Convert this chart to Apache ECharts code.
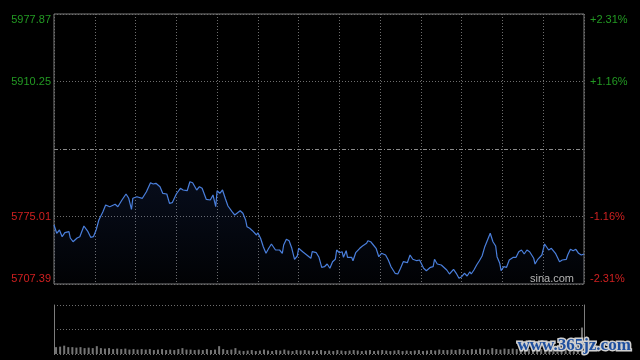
<!DOCTYPE html>
<html>
<head>
<meta charset="utf-8">
<script src="https://cdn.jsdelivr.net/npm/echarts@6/dist/echarts.min.js"></script>
<style>
html,body{margin:0;padding:0;background:#000;}
#c{width:640px;height:360px;}
</style>
</head>
<body>
<div id="c"></div>
<script>
// ---- data ----
const prevClose = 5842.63;
const priceTicks = [5707.39, 5775.01, 5842.63, 5910.25, 5977.87];
const tickStep = 67.62;
// minutes since 09:30
const minutes = [0,2,4,6,8,11,12,14,17,19,22,23,25,27,29,31,33,36,38,41,45,47,50,53,55,57,58,61,65,68,71,73,75,78,80,83,85,87,90,93,95,98,100,102,105,107,109,112,115,117,119,120,122,124,126,128,131,133,137,139,141,142,144,146,147,149,150,152,154,156,158,160,161,163,166,168,169,171,173,175,177,179,180,183,186,189,190,193,195,197,199,201,203,205,207,208,210,212,213,215,216,219,220,222,225,227,230,231,233,235,237,239,241,244,246,248,251,253,255,257,260,262,264,267,269,272,274,277,279,280,282,285,286,289,291,294,296,298,300,302,304,306,307,309,311,313,315,317,319,321,323,325,326,328,329,331,333,335,338,340,342,344,346,348,350,353,354,356,359,361,364,366,369,370,372,374,377,378,380,382,384,386,388,390];
const prices = [5766.49,5758.18,5761.48,5754.77,5758.78,5759.78,5753.47,5749.76,5753.47,5754.77,5765.49,5766.49,5759.78,5754.17,5754.77,5761.48,5771.50,5779.82,5786.53,5784.83,5787.23,5784.83,5791.54,5797.55,5793.24,5782.22,5793.24,5794.84,5793.24,5799.85,5808.87,5807.57,5808.27,5804.86,5798.25,5797.55,5788.23,5788.83,5797.55,5803.26,5801.56,5800.85,5809.87,5808.87,5801.56,5804.86,5803.26,5792.24,5791.54,5796.55,5784.83,5800.85,5798.25,5801.56,5793.24,5785.53,5779.82,5776.51,5780.82,5778.21,5771.50,5764.79,5763.19,5760.78,5760.78,5756.48,5758.78,5753.17,5744.75,5738.14,5743.15,5747.46,5745.46,5741.45,5741.45,5738.14,5746.46,5752.17,5750.76,5743.15,5732.13,5735.44,5743.15,5739.75,5736.44,5733.13,5739.75,5738.74,5734.14,5724.12,5724.72,5727.42,5723.12,5729.73,5732.13,5741.45,5738.74,5739.75,5734.14,5740.75,5734.14,5734.14,5730.73,5738.74,5743.15,5745.46,5748.16,5750.76,5749.76,5746.46,5743.15,5734.74,5738.14,5736.44,5731.43,5724.72,5718.11,5717.41,5723.12,5729.73,5728.73,5736.44,5732.13,5730.73,5731.43,5723.12,5720.71,5724.12,5724.72,5732.13,5727.42,5726.42,5724.72,5721.41,5717.41,5722.11,5718.11,5713.10,5714.70,5718.11,5715.40,5719.71,5717.41,5721.41,5726.42,5730.73,5735.44,5744.75,5751.47,5758.18,5749.76,5745.46,5734.74,5728.12,5720.71,5724.72,5724.12,5731.43,5734.14,5734.14,5739.75,5741.45,5737.44,5741.45,5739.75,5733.13,5727.42,5732.13,5736.44,5747.46,5741.45,5743.15,5738.14,5736.44,5729.73,5731.43,5732.13,5736.44,5742.15,5740.75,5742.15,5738.14,5736.44,5737.44];
// volume per 3-minute bin (arbitrary units)
const volumes = [14,15,17,14, 14,13,14,12,13, 12,16, 12,11,12,10,11, 10,11,9,10,9, 10,9,10,8,9,10,8,9,8,10, 12,9, 9,8,9,8,10,8,9, 16, 10,8,9, 12, 7,6,7,8,6,7,9,7,6,8,7,9,7,6,8,7, 8,7,6,7,8,6,7,6,8,7,6,7,8,7,6,7,8,6,7,8, 7,6,7,8,6,7,6,7,8,6,7,8,7,9,8, 8,9,8,10,9,8,10,9,11,10,9,12,10,9,11, 10,11,10,12,11,10,12,11,10,11,12,11,10,12,11, 12,11,13, 54];
const volTimes = volumes.map((v, i) => {
  const m = 9 * 60 + 30 + i * 3;
  return String(Math.floor(m / 60)).padStart(2, '0') + ':' + String(m % 60).padStart(2, '0');
});

// ---- chart ----
const GREEN = '#239a23', RED = '#cf2020';
const chart = echarts.init(document.getElementById('c'), null, {renderer: 'canvas'});
const lblColor = (v) => (v > prevClose + 0.001 ? GREEN : RED);
const gridDot = [1, 2];
chart.setOption({
  backgroundColor: '#000',
  animation: false,
  grid: [
    {left: 54, right: 56, top: 14, height: 270, show: true, borderColor: '#7c7c7c', borderWidth: 1, backgroundColor: 'transparent'},
    {left: 54, right: 56, top: 305, height: 49}
  ],
  xAxis: [
    {type: 'value', gridIndex: 0, min: 0, max: 390, interval: 30,
     axisLine: {show: false}, axisTick: {show: false}, axisLabel: {show: false},
     splitLine: {show: true, lineStyle: {color: '#6e6e6e', type: gridDot, width: 1}}},
    {type: 'category', gridIndex: 1, data: volTimes, boundaryGap: true,
     axisLine: {show: false}, axisTick: {show: false}, axisLabel: {show: false}, splitLine: {show: false}}
  ],
  yAxis: [
    {type: 'value', gridIndex: 0, position: 'left', min: priceTicks[0], max: priceTicks[4], interval: tickStep,
     axisLine: {show: false}, axisTick: {show: false},
     axisLabel: {margin: 3, fontSize: 11, fontFamily: 'Arial, "Liberation Sans", sans-serif',
       verticalAlignMaxLabel: 'top', verticalAlignMinLabel: 'bottom',
       color: (v) => lblColor(v),
       formatter: (v) => (Math.abs(v - prevClose) < 0.01 ? '' : v.toFixed(2))},
     splitLine: {show: true, lineStyle: {color: ['#6e6e6e', '#6e6e6e', 'rgba(0,0,0,0)', '#6e6e6e', '#6e6e6e'], type: gridDot, width: 1}}},
    {type: 'value', gridIndex: 0, position: 'right', min: priceTicks[0], max: priceTicks[4], interval: tickStep,
     axisLine: {show: false}, axisTick: {show: false}, splitLine: {show: false},
     axisLabel: {margin: 6, fontSize: 11, fontFamily: 'Arial, "Liberation Sans", sans-serif',
       verticalAlignMaxLabel: 'top', verticalAlignMinLabel: 'bottom',
       color: (v) => lblColor(v),
       formatter: (v) => {
         if (Math.abs(v - prevClose) < 0.01) return '';
         const p = (v - prevClose) / prevClose * 100;
         return (p > 0 ? '+' : '') + p.toFixed(2) + '%';
       }}},
    {type: 'value', gridIndex: 1, position: 'left', min: 0, max: 100, interval: 50,
     axisLine: {show: true, lineStyle: {color: '#7c7c7c', width: 1}}, axisTick: {show: false}, axisLabel: {show: false},
     splitLine: {show: true, lineStyle: {color: '#6e6e6e', type: gridDot, width: 1}}},
    {type: 'value', gridIndex: 1, position: 'right', min: 0, max: 100, interval: 50,
     axisLine: {show: true, lineStyle: {color: '#7c7c7c', width: 1}}, axisTick: {show: false}, axisLabel: {show: false},
     splitLine: {show: false}}
  ],
  series: [
    {type: 'line', xAxisIndex: 0, yAxisIndex: 0, showSymbol: false, symbol: 'none',
     data: minutes.map((m, i) => [m, prices[i]]),
     lineStyle: {color: '#4a7fdc', width: 1.2},
     areaStyle: {origin: 'start', color: new echarts.graphic.LinearGradient(0, 0, 0, 1, [
       {offset: 0, color: 'rgba(50,90,190,0.20)'}, {offset: 1, color: 'rgba(50,90,190,0.03)'}])},
     markLine: {silent: true, symbol: 'none', label: {show: false},
       lineStyle: {color: '#8a8a8a', type: [4, 2, 1, 2], width: 1},
       data: [{yAxis: prevClose}]}},
    {type: 'bar', xAxisIndex: 1, yAxisIndex: 2, data: volumes, barWidth: 2,
     itemStyle: {color: '#757575'}}
  ],
  graphic: [
    {type: 'text', right: 66, top: 273, z: 10, silent: true,
     style: {text: 'sina.com', fill: '#b4b4b4', font: '11px Arial, "Liberation Sans", sans-serif'}},
    {type: 'text', left: 516, top: 336, z: 20, silent: true,
     style: {text: 'www.365jz.com', fill: '#1e4f9e', font: 'bold 17px "Liberation Serif", serif',
       stroke: '#cfcfcf', lineWidth: 3}}
  ]
});
</script>
</body>
</html>
